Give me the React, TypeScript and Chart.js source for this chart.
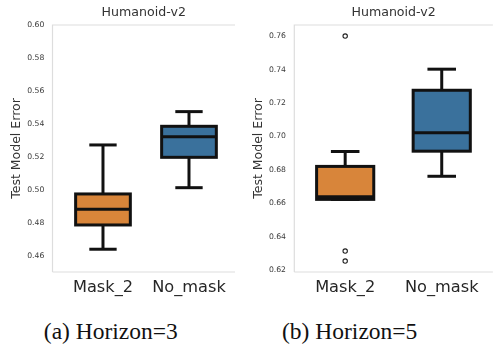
import React, { useEffect, useRef } from "react";
import { Chart, registerables } from "chart.js";

Chart.register(...registerables);

// ---------- data ----------
const categories = ["Mask_2", "No_mask"];
const boxColors = ["#d8853a", "#3a719c"];
const chartTitle = "Humanoid-v2";
const yAxisTitle = "Test Model Error";

// (a) Horizon=3
const h3Whislo = [0.4641, 0.5014];
const h3Q1 = [0.4788, 0.5198];
const h3Median = [0.4883, 0.5323];
const h3Q3 = [0.4976, 0.5386];
const h3Whishi = [0.5273, 0.5475];
const h3Outliers: number[][] = [[], []];
const h3YTicks = [0.46, 0.48, 0.5, 0.52, 0.54, 0.56, 0.58, 0.6];

// (b) Horizon=5
const h5Whislo = [0.6624, 0.6762];
const h5Q1 = [0.6624, 0.6912];
const h5Median = [0.664, 0.7022];
const h5Q3 = [0.6821, 0.7276];
const h5Whishi = [0.691, 0.7402];
const h5Outliers: number[][] = [[0.76, 0.6315, 0.6255], []];
const h5YTicks = [0.62, 0.64, 0.66, 0.68, 0.7, 0.72, 0.74, 0.76];

const captions = ["(a) Horizon=3", "(b) Horizon=5"];

type Stats = {
  lo: number[];
  q1: number[];
  med: number[];
  q3: number[];
  hi: number[];
  outliers: number[][];
};

type BoxProps = {
  stats: Stats;
  yTicks: number[];
  yMin: number;
  yMax: number;
  xMin: number;
  xMax: number;
  barPct: number;
  width: number;
  height: number;
  yAxisWidth: number;
  yTitlePad: number;
  yTickPad: number;
  padRight: number;
};

const FONT = "'DejaVu Sans', sans-serif";

function BoxChart(p: BoxProps) {
  const ref = useRef<HTMLCanvasElement | null>(null);
  useEffect(() => {
    const canvas = ref.current;
    if (!canvas) return;
    const s = p.stats;

    const boxPlugin = {
      id: "boxlines",
      beforeDatasetsDraw(chart: any) {
        const { ctx, chartArea: a } = chart;
        ctx.save();
        ctx.strokeStyle = "#dddddd";
        ctx.lineWidth = 1.2;
        ctx.beginPath();
        ctx.moveTo(a.left, a.bottom);
        ctx.lineTo(a.left, a.top);
        ctx.lineTo(a.right, a.top);
        ctx.moveTo(a.left, a.bottom);
        ctx.lineTo(a.right, a.bottom);
        ctx.stroke();
        ctx.restore();
      },
      afterDatasetsDraw(chart: any) {
        const { ctx, chartArea: a } = chart;
        const y = chart.scales.y;
        const meta = chart.getDatasetMeta(0);
        const py = (v: number) => y.getPixelForValue(v);
        ctx.save();
        ctx.strokeStyle = "#111111";
        ctx.lineWidth = 3;
        ctx.lineCap = "butt";
        const line = (x1: number, y1: number, x2: number, y2: number) => {
          ctx.beginPath();
          ctx.moveTo(x1, y1);
          ctx.lineTo(x2, y2);
          ctx.stroke();
        };
        meta.data.forEach((bar: any, i: number) => {
          const { x: cx, width } = bar.getProps(["x", "width"], true);
          const hw = width / 2;
          const cap = width / 4;
          if (s.hi[i] > s.q3[i]) line(cx, py(s.q3[i]), cx, py(s.hi[i]));
          if (s.lo[i] < s.q1[i]) line(cx, py(s.q1[i]), cx, py(s.lo[i]));
          line(cx - cap, py(s.hi[i]), cx + cap, py(s.hi[i]));
          line(cx - cap, py(s.lo[i]), cx + cap, py(s.lo[i]));
          ctx.strokeRect(cx - hw, py(s.q3[i]), width, py(s.q1[i]) - py(s.q3[i]));
          line(cx - hw, py(s.med[i]), cx + hw, py(s.med[i]));
        });
        // chart title centred over the plot area
        ctx.fillStyle = "#333333";
        ctx.font = "12.6px " + FONT;
        ctx.textAlign = "center";
        ctx.textBaseline = "alphabetic";
        ctx.fillText(chartTitle, (a.left + a.right) / 2, 16);
        ctx.restore();
      },
    };

    const outlierPts: { x: number; y: number }[] = [];
    s.outliers.forEach((arr, i) => arr.forEach((v) => outlierPts.push({ x: i, y: v })));

    const chart = new Chart(canvas, {
      type: "bar",
      data: {
        datasets: [
          {
            type: "bar",
            data: categories.map((_, i) => ({ x: i, y: [s.q1[i], s.q3[i]] })) as any,
            backgroundColor: boxColors,
            borderWidth: 0,
            barPercentage: p.barPct,
            categoryPercentage: 1,
          } as any,
          {
            type: "scatter",
            data: outlierPts,
            pointRadius: 2.2,
            pointBorderWidth: 1.1,
            pointBackgroundColor: "#ffffff",
            pointBorderColor: "#222222",
          } as any,
        ],
      },
      options: {
        responsive: false,
        animation: false,
        events: [],
        layout: { padding: { left: 0, right: p.padRight, top: 25, bottom: 0 } },
        plugins: {
          legend: { display: false },
          tooltip: { enabled: false },
          title: { display: false },
        },
        scales: {
          x: {
            type: "linear",
            min: p.xMin,
            max: p.xMax,
            offset: false,
            grid: { display: false, drawTicks: false, tickLength: 0, offset: false },
            border: { display: false },
            afterBuildTicks: (sc: any) => {
              sc.ticks = categories.map((_, i) => ({ value: i }));
            },
            afterFit: (sc: any) => {
              sc.height = 28;
            },
            ticks: {
              autoSkip: false,
              maxRotation: 0,
              padding: 5.7,
              color: "#262626",
              font: { family: FONT, size: 16.2, lineHeight: 1.2 },
              callback: (v: any) => categories[Math.round(Number(v))] ?? "",
            },
          },
          y: {
            type: "linear",
            min: p.yMin,
            max: p.yMax,
            grid: { display: false, drawTicks: false, tickLength: 0 },
            border: { display: false },
            afterBuildTicks: (sc: any) => {
              sc.ticks = p.yTicks.map((v) => ({ value: v }));
            },
            afterFit: (sc: any) => {
              sc.width = p.yAxisWidth;
            },
            title: {
              display: true,
              text: yAxisTitle,
              color: "#333333",
              font: { family: FONT, size: 12.5, lineHeight: 1.2 },
              padding: { top: p.yTitlePad, bottom: 0 },
            },
            ticks: {
              autoSkip: false,
              padding: p.yTickPad,
              color: "#3a3a3a",
              font: { family: FONT, size: 7.7 },
              callback: (v: any) => Number(v).toFixed(2),
            },
          },
        },
      } as any,
      plugins: [boxPlugin],
    });
    return () => chart.destroy();
  }, []);
  return <canvas ref={ref} width={p.width} height={p.height} style={{ display: "block" }} />;
}

export default function App() {
  const h3: Stats = { lo: h3Whislo, q1: h3Q1, med: h3Median, q3: h3Q3, hi: h3Whishi, outliers: h3Outliers };
  const h5: Stats = { lo: h5Whislo, q1: h5Q1, med: h5Median, q3: h5Q3, hi: h5Whishi, outliers: h5Outliers };
  const capStyle: React.CSSProperties = {
    position: "absolute",
    top: 320.3,
    width: 200,
    textAlign: "center",
    fontFamily: "'Liberation Serif', 'Times New Roman', serif",
    fontSize: 23.5,
    lineHeight: 1,
    color: "#111",
    whiteSpace: "nowrap",
  };
  return (
    <div style={{ position: "fixed", left: 0, top: 0, width: 498, height: 347, background: "#fff", overflow: "hidden" }}>
      <div style={{ position: "absolute", left: 0, top: 0 }}>
        <BoxChart
          stats={h3}
          yTicks={h3YTicks}
          yMin={0.4503}
          yMax={0.6}
          xMin={-0.587}
          xMax={1.535}
          barPct={0.636}
          width={240}
          height={300}
          yAxisWidth={52.5}
          yTitlePad={9.5}
          yTickPad={8.2}
          padRight={5}
        />
      </div>
      <div style={{ position: "absolute", left: 240, top: 0 }}>
        <BoxChart
          stats={h5}
          yTicks={h5YTicks}
          yMin={0.619}
          yMax={0.7666}
          xMin={-0.527}
          xMax={1.53}
          barPct={0.592}
          width={258}
          height={300}
          yAxisWidth={54.3}
          yTitlePad={11.5}
          yTickPad={8.3}
          padRight={0}
        />
      </div>
      <div style={{ ...capStyle, left: 110.8 - 100 }}>{captions[0]}</div>
      <div style={{ ...capStyle, left: 349.7 - 100 }}>{captions[1]}</div>
    </div>
  );
}
